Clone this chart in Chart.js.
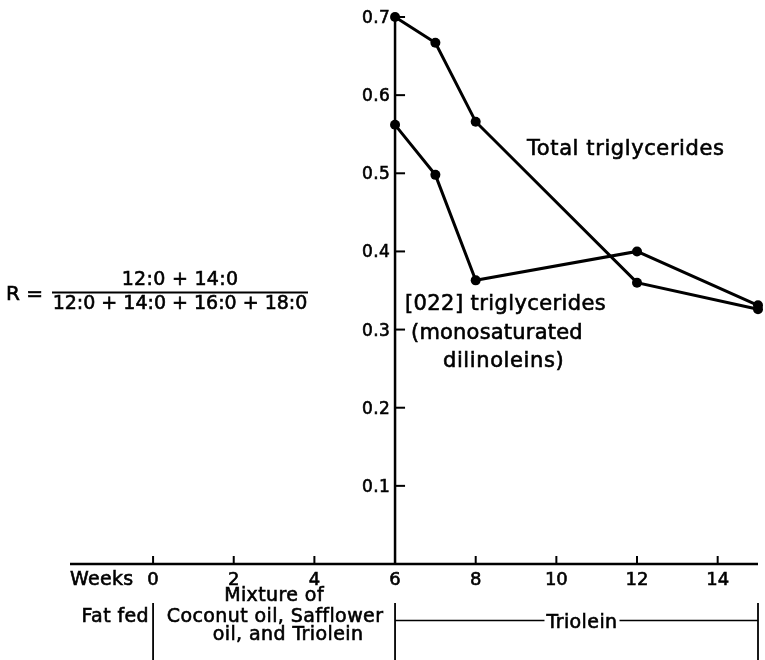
<!DOCTYPE html>
<html>
<head>
<meta charset="utf-8">
<title>Triglyceride ratio R</title>
<script src="https://cdn.jsdelivr.net/npm/chart.js@4.4.1/dist/chart.umd.min.js"></script>
<style>
    html, body { margin: 0; padding: 0; background: #fff; }
    .chart-box { width: 765px; height: 660px; position: relative; }
</style>
</head>
<body>
<div class="chart-box"><canvas id="ratioChart"></canvas></div>
<script>
// Data
const weeks = [6, 7, 8, 12, 15];
const totalTriglycerides = [0.700, 0.667, 0.566, 0.360, 0.326];
const triglycerides022 = [0.562, 0.498, 0.363, 0.400, 0.331];
const xTickValues = [0, 2, 4, 6, 8, 10, 12, 14];
const yTickValues = [0.1, 0.2, 0.3, 0.4, 0.5, 0.6, 0.7];
const yTickLabels = ['0.1', '0.2', '0.3', '0.4', '0.5', '0.6', '0.7'];

const FONT = '"DejaVu Sans", sans-serif';

document.addEventListener('DOMContentLoaded', function() {
    const canvas = document.getElementById('ratioChart');
    const ctx = canvas.getContext('2d');

    function toPoints(values) {
        return weeks.map((w, i) => ({ x: w, y: values[i] }));
    }

    // text with a thin outline so it looks like the inked lettering
    function text(c, str, x, y, size, align, spacing) {
        c.font = size + 'px ' + FONT;
        c.textAlign = align || 'left';
        c.textBaseline = 'alphabetic';
        c.letterSpacing = (spacing || 0) + 'px';
        c.lineWidth = 0.6;
        c.fillText(str, x, y);
        c.strokeText(str, x, y);
        c.letterSpacing = '0px';
    }

    // Axes drawn by hand: y axis sits at week 6, ticks point inward
    const axesPlugin = {
        id: 'axesPlugin',
        beforeDatasetsDraw(chart) {
            const c = chart.ctx;
            const xs = chart.scales.x;
            const ys = chart.scales.y;
            const area = chart.chartArea;
            const axisX = xs.getPixelForValue(6);
            const baseY = ys.getPixelForValue(0);

            c.save();
            c.strokeStyle = '#000';
            c.fillStyle = '#000';

            // x axis
            c.lineWidth = 2.5;
            c.beginPath();
            c.moveTo(area.left, baseY);
            c.lineTo(area.right, baseY);
            c.stroke();

            // y axis
            c.beginPath();
            c.moveTo(axisX, baseY);
            c.lineTo(axisX, ys.getPixelForValue(0.7));
            c.stroke();

            // x ticks (upward) and labels
            xTickValues.forEach(v => {
                const px = xs.getPixelForValue(v);
                if (v !== 6) {
                    c.lineWidth = 2;
                    c.beginPath();
                    c.moveTo(px, baseY);
                    c.lineTo(px, baseY - 8);
                    c.stroke();
                }
                text(c, String(v), px, baseY + 21, 18, 'center');
            });
            text(c, 'Weeks', area.left, baseY + 21, 19, 'left', 0.3);

            // y ticks (to the right) and labels
            yTickValues.forEach((v, i) => {
                const py = ys.getPixelForValue(v);
                c.lineWidth = 2;
                c.beginPath();
                c.moveTo(axisX, py);
                c.lineTo(axisX + 10, py);
                c.stroke();
                text(c, yTickLabels[i], axisX - 5, py + 6, 17, 'right', 0.3);
            });
            c.restore();
        },
        afterDraw(chart) {
            const c = chart.ctx;
            const xs = chart.scales.x;
            const area = chart.chartArea;
            const x0 = xs.getPixelForValue(0);
            const x6 = xs.getPixelForValue(6);
            const xEnd = area.right;

            c.save();
            c.fillStyle = '#000';
            c.strokeStyle = '#000';

            // series labels
            text(c, 'Total triglycerides', 527, 155, 21, 'left', 0.6);
            text(c, '[022] triglycerides', 405, 310, 21, 'left', 0.4);
            text(c, '(monosaturated', 411, 339, 21, 'left', 0.2);
            text(c, 'dilinoleins)', 443, 367, 21, 'left', 0.6);

            // formula for R
            text(c, 'R =', 6, 300, 20, 'left');
            text(c, '12:0 + 14:0', 180, 285, 19, 'center', 0.3);
            c.lineWidth = 1.8;
            c.beginPath();
            c.moveTo(52, 292.5);
            c.lineTo(308, 292.5);
            c.stroke();
            text(c, '12:0 + 14:0 + 16:0 + 18:0', 180, 309, 19, 'center', 0);

            // fat fed bands
            [x0, x6, xEnd].forEach(px => {
                c.lineWidth = 1.8;
                c.beginPath();
                c.moveTo(px, 603);
                c.lineTo(px, 660);
                c.stroke();
            });
            text(c, 'Fat fed', x0 - 4, 622, 19, 'right', 0.4);
            text(c, 'Mixture of', (x0 + x6) / 2, 601, 19, 'center', 0.4);
            text(c, 'Coconut oil, Safflower', (x0 + x6) / 2 + 1, 622, 19, 'center', 0.4);
            text(c, 'oil, and Triolein', (x0 + x6) / 2 + 14, 640, 19, 'center', 0.4);

            const midX = 582;
            c.font = '19px ' + FONT;
            c.letterSpacing = '0.4px';
            const half = c.measureText('Triolein').width / 2 + 2;
            c.letterSpacing = '0px';
            c.lineWidth = 1.3;
            c.beginPath();
            c.moveTo(x6, 620.5);
            c.lineTo(midX - half, 620.5);
            c.moveTo(midX + half, 620.5);
            c.lineTo(xEnd, 620.5);
            c.stroke();
            text(c, 'Triolein', midX, 628, 19, 'center', 0.4);
            c.restore();
        }
    };

    new Chart(ctx, {
        type: 'line',
        data: {
            datasets: [{
                label: 'Total triglycerides',
                data: toPoints(totalTriglycerides),
                borderColor: '#000',
                backgroundColor: '#000',
                borderWidth: 3,
                pointRadius: 5,
                pointBorderWidth: 0,
                tension: 0,
                clip: false
            }, {
                label: '[022] triglycerides',
                data: toPoints(triglycerides022),
                borderColor: '#000',
                backgroundColor: '#000',
                borderWidth: 3,
                pointRadius: 5,
                pointBorderWidth: 0,
                tension: 0,
                clip: false
            }]
        },
        options: {
            responsive: true,
            maintainAspectRatio: false,
            animation: false,
            layout: {
                padding: { left: 70, right: 7, top: 17, bottom: 96 }
            },
            plugins: {
                legend: { display: false },
                tooltip: { enabled: false }
            },
            scales: {
                x: { type: 'linear', min: -2.06, max: 15, display: false },
                y: { min: 0, max: 0.7, display: false }
            }
        },
        plugins: [axesPlugin]
    });
});
</script>
</body>
</html>
